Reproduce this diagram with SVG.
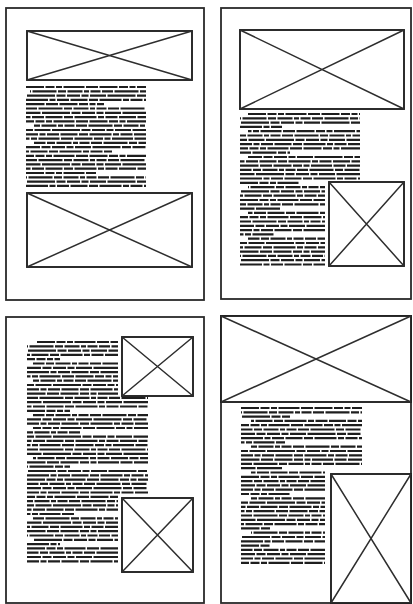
<svg xmlns="http://www.w3.org/2000/svg" width="413" height="604" viewBox="0 0 413 604">
<style>
.pg{fill:#fff;stroke:#2a2a2a;stroke-width:1.8}
.bx{fill:#fff;stroke:#222;stroke-width:1.9}
.x{stroke:#2e2e2e;stroke-width:1.5;fill:none}
.tx line{stroke:#1e1e1e;stroke-width:2.2}
.a{stroke-dasharray:18 1.5 9 1.5 6 1.5 21 1.5 12 1.5}
.b{stroke-dasharray:11 1.5 24 1.5 8 1.5 15 1.5 5 1.5 10 1.5}
.c{stroke-dasharray:7 1.5 16 1.5 28 1.5 9 1.5 13 1.5}
.d{stroke-dasharray:22 1.5 6 1.5 12 1.5 17 1.5 9 1.5}
.o1{stroke-dashoffset:10}.o2{stroke-dashoffset:25}.o3{stroke-dashoffset:40}
</style>
<rect width="413" height="604" fill="#fff"/>

<g id="page1">
<rect class="pg" x="6" y="8" width="198" height="292"/>
<g id="p1-img1"><rect class="bx" x="27" y="31" width="165" height="49"/><path class="x" d="M27 31L192 80M192 31L27 80"/></g>
<g id="p1-text" class="tx">
<line class="a" x1="26" x2="146" y1="87" y2="87"/>
<line class="b o1" x1="30" x2="146" y1="91.3" y2="91.3"/>
<line class="c o2" x1="26" x2="146" y1="95.6" y2="95.6"/>
<line class="d" x1="26" x2="146" y1="99.9" y2="99.9"/>
<line class="a o3" x1="26" x2="104" y1="104.2" y2="104.2"/>
<line class="b" x1="26" x2="146" y1="108.5" y2="108.5"/>
<line class="c o1" x1="26" x2="146" y1="112.8" y2="112.8"/>
<line class="d o2" x1="26" x2="146" y1="117.1" y2="117.1"/>
<line class="a o1" x1="26" x2="146" y1="121.4" y2="121.4"/>
<line class="b o3" x1="34" x2="146" y1="125.7" y2="125.7"/>
<line class="c" x1="26" x2="146" y1="130" y2="130"/>
<line class="d o1" x1="26" x2="146" y1="134.3" y2="134.3"/>
<line class="a o2" x1="26" x2="146" y1="138.6" y2="138.6"/>
<line class="b o2" x1="34" x2="146" y1="142.9" y2="142.9"/>
<line class="c o3" x1="26" x2="146" y1="147.2" y2="147.2"/>
<line class="d o3" x1="26" x2="112" y1="151.5" y2="151.5"/>
<line class="a o1" x1="26" x2="146" y1="155.8" y2="155.8"/>
<line class="b" x1="26" x2="146" y1="160.1" y2="160.1"/>
<line class="c o1" x1="26" x2="146" y1="164.4" y2="164.4"/>
<line class="d o2" x1="26" x2="146" y1="168.7" y2="168.7"/>
<line class="a" x1="26" x2="96" y1="173" y2="173"/>
<line class="b o1" x1="26" x2="146" y1="177.3" y2="177.3"/>
<line class="c o2" x1="26" x2="146" y1="181.6" y2="181.6"/>
<line class="d" x1="26" x2="146" y1="185.9" y2="185.9"/>
</g>
<g id="p1-img2"><rect class="bx" x="27" y="193" width="165" height="74"/><path class="x" d="M27 193L192 267M192 193L27 267"/></g>
</g>

<g id="page2">
<rect class="pg" x="221" y="8" width="190" height="291"/>
<g id="p2-img1"><rect class="bx" x="240" y="30" width="164" height="79"/><path class="x" d="M240 30L404 109M404 30L240 109"/></g>
<g id="p2-text" class="tx">
<line class="a" x1="248" x2="360" y1="114" y2="114"/>
<line class="b o1" x1="240" x2="360" y1="118.3" y2="118.3"/>
<line class="c o2" x1="240" x2="360" y1="122.6" y2="122.6"/>
<line class="d" x1="240" x2="282" y1="126.9" y2="126.9"/>
<line class="a o2" x1="248" x2="360" y1="131.2" y2="131.2"/>
<line class="b o3" x1="240" x2="360" y1="135.5" y2="135.5"/>
<line class="c" x1="240" x2="360" y1="139.8" y2="139.8"/>
<line class="d o1" x1="240" x2="360" y1="144.1" y2="144.1"/>
<line class="a o1" x1="240" x2="360" y1="148.4" y2="148.4"/>
<line class="b" x1="240" x2="290" y1="152.7" y2="152.7"/>
<line class="c o3" x1="248" x2="360" y1="157" y2="157"/>
<line class="d o2" x1="240" x2="360" y1="161.3" y2="161.3"/>
<line class="a o3" x1="240" x2="360" y1="165.6" y2="165.6"/>
<line class="b o2" x1="240" x2="360" y1="169.9" y2="169.9"/>
<line class="c o1" x1="240" x2="360" y1="174.2" y2="174.2"/>
<line class="d" x1="240" x2="360" y1="178.5" y2="178.5"/>
<line class="a" x1="240" x2="300" y1="182.8" y2="182.8"/>
<line class="b o1" x1="248" x2="325" y1="187.1" y2="187.1"/>
<line class="c o2" x1="240" x2="325" y1="191.4" y2="191.4"/>
<line class="d o3" x1="240" x2="325" y1="195.7" y2="195.7"/>
<line class="a" x1="240" x2="325" y1="200" y2="200"/>
<line class="b o3" x1="240" x2="325" y1="204.3" y2="204.3"/>
<line class="c o1" x1="240" x2="280" y1="208.6" y2="208.6"/>
<line class="d o2" x1="248" x2="325" y1="212.9" y2="212.9"/>
<line class="a o1" x1="240" x2="325" y1="217.2" y2="217.2"/>
<line class="b" x1="240" x2="325" y1="221.5" y2="221.5"/>
<line class="c o3" x1="240" x2="325" y1="225.8" y2="225.8"/>
<line class="d o1" x1="240" x2="325" y1="230.1" y2="230.1"/>
<line class="a o2" x1="240" x2="275" y1="234.4" y2="234.4"/>
<line class="b o2" x1="248" x2="325" y1="238.7" y2="238.7"/>
<line class="c" x1="240" x2="325" y1="243" y2="243"/>
<line class="d o3" x1="240" x2="325" y1="247.3" y2="247.3"/>
<line class="a o3" x1="240" x2="325" y1="251.6" y2="251.6"/>
<line class="b o1" x1="240" x2="325" y1="255.9" y2="255.9"/>
<line class="c o2" x1="240" x2="325" y1="260.2" y2="260.2"/>
<line class="d" x1="240" x2="325" y1="264.5" y2="264.5"/>
</g>
<g id="p2-img2"><rect class="bx" x="329" y="182" width="75" height="84"/><path class="x" d="M329 182L404 266M404 182L329 266"/></g>
</g>

<g id="page3">
<rect class="pg" x="6" y="317" width="198" height="286"/>
<g id="p3-img1"><rect class="bx" x="122" y="337" width="71" height="59"/><path class="x" d="M122 337L193 396M193 337L122 396"/></g>
<g id="p3-text" class="tx">
<line class="a" x1="37" x2="118" y1="342" y2="342"/>
<line class="b o1" x1="27" x2="118" y1="346.3" y2="346.3"/>
<line class="c o2" x1="27" x2="118" y1="350.6" y2="350.6"/>
<line class="d o3" x1="27" x2="118" y1="354.9" y2="354.9"/>
<line class="a o1" x1="27" x2="60" y1="359.2" y2="359.2"/>
<line class="b o2" x1="33" x2="118" y1="363.5" y2="363.5"/>
<line class="c o3" x1="27" x2="118" y1="367.8" y2="367.8"/>
<line class="d" x1="27" x2="118" y1="372.1" y2="372.1"/>
<line class="a o2" x1="27" x2="118" y1="376.4" y2="376.4"/>
<line class="b o3" x1="33" x2="118" y1="380.7" y2="380.7"/>
<line class="c" x1="27" x2="118" y1="385" y2="385"/>
<line class="d o1" x1="27" x2="118" y1="389.3" y2="389.3"/>
<line class="a o3" x1="27" x2="118" y1="393.6" y2="393.6"/>
<line class="b" x1="27" x2="148" y1="397.9" y2="397.9"/>
<line class="c o1" x1="27" x2="148" y1="402.2" y2="402.2"/>
<line class="d o2" x1="27" x2="148" y1="406.5" y2="406.5"/>
<line class="a" x1="27" x2="70" y1="410.8" y2="410.8"/>
<line class="b o2" x1="33" x2="148" y1="415.1" y2="415.1"/>
<line class="c o3" x1="27" x2="148" y1="419.4" y2="419.4"/>
<line class="d o1" x1="27" x2="148" y1="423.7" y2="423.7"/>
<line class="a o1" x1="33" x2="148" y1="428" y2="428"/>
<line class="b o3" x1="27" x2="80" y1="432.3" y2="432.3"/>
<line class="c" x1="27" x2="148" y1="436.6" y2="436.6"/>
<line class="d o2" x1="27" x2="148" y1="440.9" y2="440.9"/>
<line class="a o2" x1="27" x2="148" y1="445.2" y2="445.2"/>
<line class="b" x1="27" x2="148" y1="449.5" y2="449.5"/>
<line class="c o1" x1="27" x2="148" y1="453.8" y2="453.8"/>
<line class="d o3" x1="33" x2="148" y1="458.1" y2="458.1"/>
<line class="a o3" x1="27" x2="148" y1="462.4" y2="462.4"/>
<line class="b o1" x1="27" x2="70" y1="466.7" y2="466.7"/>
<line class="c o2" x1="27" x2="148" y1="471" y2="471"/>
<line class="d" x1="27" x2="148" y1="475.3" y2="475.3"/>
<line class="a" x1="27" x2="148" y1="479.6" y2="479.6"/>
<line class="b o2" x1="27" x2="148" y1="483.9" y2="483.9"/>
<line class="c o3" x1="27" x2="148" y1="488.2" y2="488.2"/>
<line class="d o1" x1="27" x2="148" y1="492.5" y2="492.5"/>
<line class="a o1" x1="27" x2="118" y1="496.8" y2="496.8"/>
<line class="b o3" x1="27" x2="118" y1="501.1" y2="501.1"/>
<line class="c" x1="27" x2="118" y1="505.4" y2="505.4"/>
<line class="d o2" x1="27" x2="118" y1="509.7" y2="509.7"/>
<line class="a o2" x1="27" x2="75" y1="514" y2="514"/>
<line class="b" x1="33" x2="118" y1="518.3" y2="518.3"/>
<line class="c o1" x1="27" x2="118" y1="522.6" y2="522.6"/>
<line class="d o3" x1="27" x2="118" y1="526.9" y2="526.9"/>
<line class="a o3" x1="27" x2="118" y1="531.2" y2="531.2"/>
<line class="b o1" x1="27" x2="118" y1="535.5" y2="535.5"/>
<line class="c o2" x1="33" x2="118" y1="539.8" y2="539.8"/>
<line class="d" x1="27" x2="60" y1="544.1" y2="544.1"/>
<line class="a" x1="27" x2="118" y1="548.4" y2="548.4"/>
<line class="b o2" x1="27" x2="118" y1="552.7" y2="552.7"/>
<line class="c o3" x1="27" x2="118" y1="557" y2="557"/>
<line class="d o1" x1="27" x2="118" y1="561.3" y2="561.3"/>
</g>
<g id="p3-img2"><rect class="bx" x="122" y="498" width="71" height="74"/><path class="x" d="M122 498L193 572M193 498L122 572"/></g>
</g>

<g id="page4">
<rect class="pg" x="221" y="316" width="190" height="287"/>
<g id="p4-img1"><rect class="bx" x="221" y="316" width="190" height="86"/><path class="x" d="M221 316L411 402M411 316L221 402"/></g>
<g id="p4-text" class="tx">
<line class="a" x1="241" x2="362" y1="408" y2="408"/>
<line class="b o1" x1="241" x2="362" y1="412.3" y2="412.3"/>
<line class="c o2" x1="241" x2="290" y1="416.6" y2="416.6"/>
<line class="d o3" x1="251" x2="362" y1="420.9" y2="420.9"/>
<line class="a o1" x1="241" x2="362" y1="425.2" y2="425.2"/>
<line class="b o2" x1="241" x2="362" y1="429.5" y2="429.5"/>
<line class="c o3" x1="241" x2="362" y1="433.8" y2="433.8"/>
<line class="d" x1="241" x2="362" y1="438.1" y2="438.1"/>
<line class="a o2" x1="241" x2="285" y1="442.4" y2="442.4"/>
<line class="b o3" x1="251" x2="362" y1="446.7" y2="446.7"/>
<line class="c" x1="241" x2="362" y1="451" y2="451"/>
<line class="d o1" x1="241" x2="362" y1="455.3" y2="455.3"/>
<line class="a o3" x1="241" x2="362" y1="459.6" y2="459.6"/>
<line class="b" x1="241" x2="362" y1="463.9" y2="463.9"/>
<line class="c o1" x1="241" x2="282" y1="468.2" y2="468.2"/>
<line class="d o2" x1="251" x2="325" y1="472.5" y2="472.5"/>
<line class="a" x1="241" x2="325" y1="476.8" y2="476.8"/>
<line class="b o2" x1="241" x2="325" y1="481.1" y2="481.1"/>
<line class="c o3" x1="241" x2="325" y1="485.4" y2="485.4"/>
<line class="d o1" x1="241" x2="325" y1="489.7" y2="489.7"/>
<line class="a o1" x1="241" x2="290" y1="494" y2="494"/>
<line class="b o3" x1="251" x2="325" y1="498.3" y2="498.3"/>
<line class="c" x1="241" x2="325" y1="502.6" y2="502.6"/>
<line class="d o2" x1="241" x2="325" y1="506.9" y2="506.9"/>
<line class="a o2" x1="241" x2="325" y1="511.2" y2="511.2"/>
<line class="b" x1="241" x2="325" y1="515.5" y2="515.5"/>
<line class="c o1" x1="241" x2="325" y1="519.8" y2="519.8"/>
<line class="d o3" x1="241" x2="325" y1="524.1" y2="524.1"/>
<line class="a o3" x1="241" x2="270" y1="528.4" y2="528.4"/>
<line class="b o1" x1="251" x2="325" y1="532.7" y2="532.7"/>
<line class="c o2" x1="241" x2="325" y1="537" y2="537"/>
<line class="d" x1="241" x2="325" y1="541.3" y2="541.3"/>
<line class="a" x1="241" x2="270" y1="545.6" y2="545.6"/>
<line class="b o2" x1="241" x2="325" y1="549.9" y2="549.9"/>
<line class="c o3" x1="241" x2="325" y1="554.2" y2="554.2"/>
<line class="d o1" x1="241" x2="325" y1="558.5" y2="558.5"/>
<line class="a o1" x1="241" x2="325" y1="562.8" y2="562.8"/>
</g>
<g id="p4-img2"><rect class="bx" x="331" y="474" width="80" height="129"/><path class="x" d="M331 474L411 603M411 474L331 603"/></g>
</g>
<g id="connectors"/>
</svg>
